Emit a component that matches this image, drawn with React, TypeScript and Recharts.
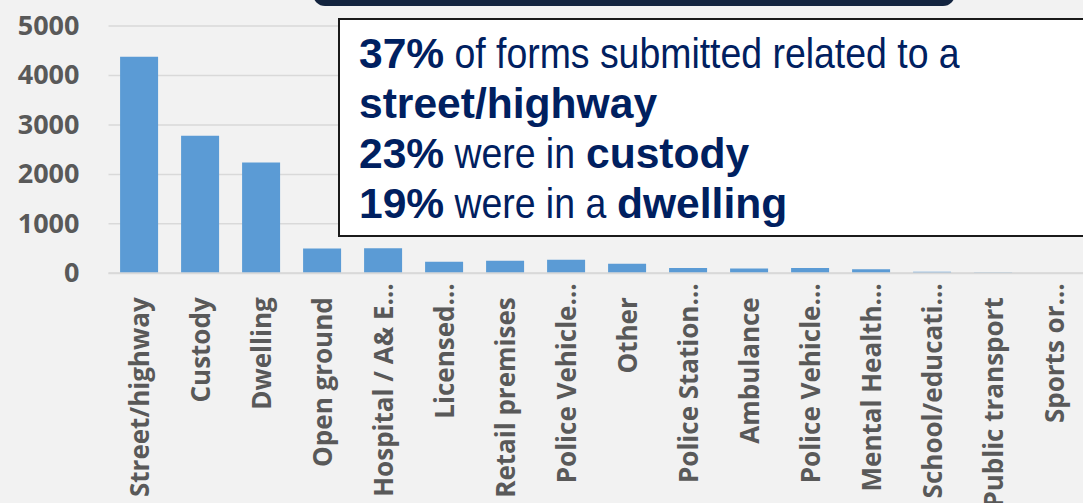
import { useLayoutEffect, useRef, useState } from "react";
import { Bar, BarChart, CartesianGrid, XAxis, YAxis } from "recharts";

const categories = [
  "Street/highway",
  "Custody",
  "Dwelling",
  "Open ground",
  "Hospital / A& E…",
  "Licensed…",
  "Retail premises",
  "Police Vehicle…",
  "Other",
  "Police Station…",
  "Ambulance",
  "Police Vehicle…",
  "Mental Health…",
  "School/educati…",
  "Public transport",
  "Sports or…",
];

const forms = [4380, 2780, 2240, 500, 505, 235, 255, 275, 195, 108, 95, 105, 80, 32, 15, 2];

const yTicks = [0, 1000, 2000, 3000, 4000, 5000];

const data = categories.map((name, i) => ({ key: `c${i}`, name, value: forms[i] }));

const tickFont = "'Open Sans', 'DejaVu Sans', sans-serif";
const tickColor = "#595959";
const navy = "#002060";

function YTick({ x, y, payload }: any) {
  return (
    <text
      x={x}
      y={y}
      dy={9}
      textAnchor="end"
      fill={tickColor}
      fontFamily={tickFont}
      fontWeight={700}
      fontSize={27}
    >
      {payload.value}
    </text>
  );
}

function XTick({ x, y, payload }: any) {
  const row = data.find((d) => d.key === payload.value);
  const name = row ? row.name : "";
  // truncated labels run a little closer to the axis, like the original
  const end = name.endsWith("…") ? -8 : -22;
  return (
    <g transform={`translate(${x},${y})`}>
      <text
        transform="rotate(-90)"
        x={end}
        y={10}
        textAnchor="end"
        fill={tickColor}
        fontFamily={tickFont}
        fontWeight={700}
        fontSize={26}
      >
        {name}
      </text>
    </g>
  );
}

// squeezes text horizontally (no narrow font installed) and keeps the flow right
function Narrow({ scale, children }: { scale: number; children: any }) {
  const ref = useRef<HTMLSpanElement>(null);
  const [w, setW] = useState(0);
  useLayoutEffect(() => {
    if (ref.current) setW(ref.current.offsetWidth);
  }, []);
  return (
    <span
      ref={ref}
      style={{
        display: "inline-block",
        whiteSpace: "pre",
        transform: `scaleX(${scale})`,
        transformOrigin: "left top",
        marginRight: -(1 - scale) * w,
      }}
    >
      {children}
    </span>
  );
}

const thin = 0.87;
const bold = 0.99;

export default function App() {
  return (
    <div
      style={{
        position: "absolute",
        left: 0,
        top: 0,
        width: 1083,
        height: 503,
        overflow: "hidden",
        background: "#f2f2f2",
      }}
    >
      <BarChart
        width={1100}
        height={503}
        data={data}
        margin={{ top: 26, right: 15.5, bottom: 0, left: 0 }}
        barCategoryGap="19%"
      >
        <CartesianGrid horizontal vertical={false} stroke="#d9d9d9" strokeWidth={1.5} />
        <XAxis
          dataKey="key"
          interval={0}
          height={229.7}
          tickLine={false}
          tickSize={0}
          axisLine={{ stroke: "#d9d9d9", strokeWidth: 2 }}
          tick={<XTick />}
        />
        <YAxis
          width={108.5}
          domain={[0, 5000]}
          ticks={yTicks}
          axisLine={false}
          tickLine={false}
          tickSize={0}
          tickMargin={29}
          tick={<YTick />}
        />
        <Bar dataKey="value" fill="#5b9bd5" isAnimationActive={false} />
      </BarChart>

      <div
        style={{
          position: "absolute",
          left: 313,
          top: -20,
          width: 642,
          height: 26,
          background: "#13243f",
          borderRadius: 12,
        }}
      />

      <div
        style={{
          position: "absolute",
          left: 338,
          top: 18,
          width: 760,
          height: 207,
          boxSizing: "content-box",
          background: "#ffffff",
          border: "2px solid #1a1a1a",
          paddingTop: 8,
          paddingLeft: 19,
          color: navy,
          fontFamily: "'Liberation Sans', Arial, sans-serif",
          fontSize: 43,
          lineHeight: "50px",
          whiteSpace: "nowrap",
        }}
      >
        <div>
          <Narrow scale={bold}><b>37%</b></Narrow>
          <Narrow scale={thin}> of forms submitted related to a</Narrow>
        </div>
        <div>
          <Narrow scale={bold}><b>street/highway</b></Narrow>
        </div>
        <div>
          <Narrow scale={bold}><b>23%</b></Narrow>
          <Narrow scale={thin}> were in </Narrow>
          <Narrow scale={bold}><b>custody</b></Narrow>
        </div>
        <div>
          <Narrow scale={bold}><b>19%</b></Narrow>
          <Narrow scale={thin}> were in a </Narrow>
          <Narrow scale={bold}><b>dwelling</b></Narrow>
        </div>
      </div>
    </div>
  );
}
